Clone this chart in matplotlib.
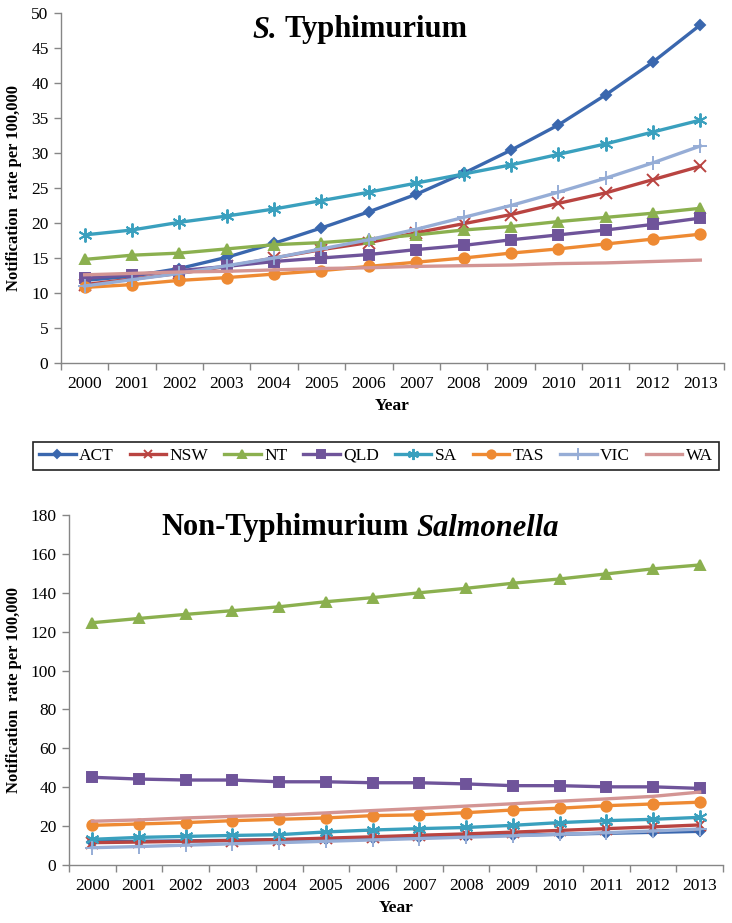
import matplotlib
matplotlib.use('Agg')
import matplotlib.pyplot as plt
from matplotlib.offsetbox import TextArea, HPacker, AnchoredOffsetbox

plt.rcParams['font.family'] = ['Liberation Serif', 'DejaVu Serif']

years = [str(y) for y in range(2000, 2014)]
states = ['ACT', 'NSW', 'NT', 'QLD', 'SA', 'TAS', 'VIC', 'WA']

# S. Typhimurium, notification rate per 100,000
typh_act = [11.8, 12.4, 13.5, 15.1, 17.1, 19.3, 21.6, 24.1, 27.1, 30.4, 34.0, 38.3, 43.0, 48.3]
typh_nsw = [11.2, 12.0, 12.8, 13.8, 15.0, 16.2, 17.2, 18.6, 19.9, 21.2, 22.8, 24.3, 26.2, 28.1]
typh_nt = [14.8, 15.4, 15.7, 16.3, 16.9, 17.2, 17.7, 18.3, 19.0, 19.5, 20.2, 20.8, 21.4, 22.1]
typh_qld = [12.1, 12.6, 13.2, 13.8, 14.5, 15.0, 15.5, 16.2, 16.8, 17.6, 18.3, 19.0, 19.8, 20.7]
typh_sa = [18.3, 19.0, 20.1, 21.0, 22.0, 23.2, 24.4, 25.7, 27.0, 28.3, 29.8, 31.3, 33.0, 34.7]
typh_tas = [10.8, 11.2, 11.8, 12.2, 12.7, 13.2, 13.8, 14.4, 15.0, 15.7, 16.3, 17.0, 17.7, 18.4]
typh_vic = [11.0, 11.9, 12.8, 13.9, 15.0, 16.3, 17.6, 19.1, 20.8, 22.5, 24.4, 26.4, 28.6, 31.0]
typh_wa = [12.6, 12.8, 13.0, 13.1, 13.3, 13.5, 13.6, 13.8, 13.9, 14.0, 14.2, 14.3, 14.5, 14.7]

# Non-Typhimurium Salmonella
non_act = [12.0, 12.2, 12.4, 12.7, 13.0, 13.4, 13.8, 14.3, 14.8, 15.3, 15.8, 16.3, 16.8, 17.3]
non_nsw = [11.5, 11.8, 12.2, 12.6, 13.1, 13.8, 14.5, 15.3, 16.0, 16.9, 17.8, 18.7, 19.6, 20.6]
non_nt = [124.6, 126.8, 128.9, 130.8, 132.8, 135.4, 137.5, 140.0, 142.3, 144.9, 147.1, 149.7, 152.3, 154.3]
non_qld = [45.1, 44.2, 43.7, 43.7, 42.8, 42.8, 42.3, 42.3, 41.7, 40.8, 40.8, 40.2, 40.2, 39.4]
non_sa = [13.2, 14.2, 14.7, 15.2, 15.6, 17.0, 18.0, 18.7, 19.3, 20.4, 21.8, 22.8, 23.5, 24.5]
non_tas = [20.4, 21.1, 21.8, 22.8, 23.5, 24.2, 25.4, 25.8, 26.9, 28.3, 29.2, 30.5, 31.4, 32.3]
non_vic = [8.9, 9.5, 10.2, 10.9, 11.5, 12.2, 12.9, 13.6, 14.3, 15.0, 15.8, 16.6, 17.5, 18.5]
non_wa = [22.5, 23.2, 24.2, 25.0, 25.7, 26.8, 28.0, 29.1, 30.3, 31.5, 32.8, 34.0, 35.3, 37.5]

typh = [typh_act, typh_nsw, typh_nt, typh_qld, typh_sa, typh_tas, typh_vic, typh_wa]
non_typh = [non_act, non_nsw, non_nt, non_qld, non_sa, non_tas, non_vic, non_wa]

colors = ['#3A67AE', '#B94441', '#8BB04F', '#6F549A', '#3AA0BE', '#EE8A33', '#96ADD6', '#D39594']
markers = ['D', 'x', '^', 's', (6, 2, 0), 'o', '+', None]
msizes = [5, 8, 7.5, 7.5, 10, 7.5, 10, 0]

AXIS_GREY = '#868686'


def draw_panel(ax, series, ymax, ystep):
    x = list(range(len(years)))
    for vals, c, m, ms, name in zip(series, colors, markers, msizes, states):
        ax.plot(x, vals, color=c, lw=2.4, marker=m, ms=ms, mfc=c, mec=c,
                mew=1.4, label=name)
    ax.set_xlim(-0.5, len(years) - 0.5)
    ax.set_ylim(0, ymax)
    ax.set_yticks(range(0, ymax + 1, ystep))
    ax.set_xticks(x)
    ax.set_xticklabels(years)
    ax.set_xticks([i - 0.5 for i in range(len(years) + 1)], minor=True)
    ax.tick_params(axis='x', which='major', length=0, labelsize=12.5, pad=9)
    ax.tick_params(axis='x', which='minor', length=5, color=AXIS_GREY, width=1)
    ax.tick_params(axis='y', length=5, color=AXIS_GREY, width=1, labelsize=12.5, pad=4)
    for s in ['top', 'right']:
        ax.spines[s].set_visible(False)
    for s in ['left', 'bottom']:
        ax.spines[s].set_color(AXIS_GREY)
        ax.spines[s].set_linewidth(1)
    ax.set_xlabel('Year', fontsize=12.5, fontweight='bold', labelpad=5)
    ax.set_ylabel('Notification  rate per 100,000', fontsize=12, fontweight='bold')


def add_title(fig, parts, x, y):
    boxes = []
    for txt, style in parts:
        boxes.append(TextArea(txt, textprops=dict(fontsize=22, fontweight='bold',
                                                  fontstyle=style, family='Liberation Serif')))
    packed = HPacker(children=boxes, pad=0, sep=6, align='baseline')
    anchored = AnchoredOffsetbox(loc='center', child=packed, frameon=False, pad=0, borderpad=0,
                                 bbox_to_anchor=(x, y), bbox_transform=fig.transFigure)
    fig.add_artist(anchored)


fig = plt.figure(figsize=(7.32, 9.23), dpi=100)
W, H = 732, 923

ax1 = fig.add_axes([61 / W, 1 - 363 / H, 663 / W, 350 / H])
draw_panel(ax1, typh, 50, 5)
ax1.yaxis.set_label_coords(-0.059, 0.5)

ax2 = fig.add_axes([69 / W, 1 - 865 / H, 654 / W, 350 / H])
draw_panel(ax2, non_typh, 180, 20)
ax2.yaxis.set_label_coords(-0.072, 0.5)

add_title(fig, [('S.', 'italic'), ('Typhimurium', 'normal')], 360 / W, 1 - 30 / H)
add_title(fig, [('Non-Typhimurium', 'normal'), ('Salmonella', 'italic')], 360 / W, 1 - 528 / H)

handles, labels = ax1.get_legend_handles_labels()
leg = fig.legend(handles, labels, ncol=8, mode='expand', loc='lower left',
                 bbox_to_anchor=(33 / W, 1 - 470 / H, 686 / W, 31 / H),
                 borderaxespad=0, fontsize=12.5, handlelength=2.1, handletextpad=0.2,
                 columnspacing=0.9, fancybox=False, framealpha=1, edgecolor='#222222',
                 borderpad=0.35, markerscale=0.8)
leg.get_frame().set_linewidth(1.2)

fig.savefig('out.png', dpi=100)
